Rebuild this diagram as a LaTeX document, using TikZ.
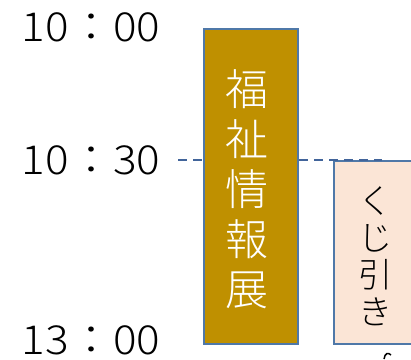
\documentclass[tikz,border=0pt]{standalone}
\usepackage{fontspec}
\newfontfamily\jpfont{Noto Sans CJK JP Light}
\definecolor{edgeblue}{HTML}{4F78A8}
\definecolor{dashblue}{HTML}{41649A}
\definecolor{gold}{HTML}{BF9000}
\definecolor{peach}{HTML}{FBE5D6}
\begin{document}
\begin{tikzpicture}[x=1pt,y=-1pt,
  timelabel/.style={anchor=center,inner sep=0pt,font=\jpfont\fontsize{40}{40}\selectfont},
  eventbox/.style={draw=edgeblue,line width=2.2pt,anchor=north west,inner sep=0pt},
  vtext/.style={align=center,inner sep=0pt}]
\useasboundingbox (0,0) rectangle (411,359);
\node[timelabel,xscale=1.1] (t1) at (91,27) {10：00};
\node[timelabel,xscale=1.1] (t2) at (91,160) {10：30};
\node[timelabel,xscale=1.1] (t3) at (91,340) {13：00};
\node[eventbox,fill=peach,minimum width=100pt,minimum height=183pt] (b2) at (333,160) {};
\coordinate (dend) at (382,160);
\coordinate (dstart) at (178,160);
\node[eventbox,fill=gold,minimum width=94pt,minimum height=315pt] (b1) at (203,28) {};
\draw[dashblue,line width=1.2pt,dash pattern=on 9pt off 6pt] (dstart) -- (b1.west |- dstart);
\draw[dashblue,line width=1.2pt,dash pattern=on 9pt off 6pt] (b1.east |- dstart) -- (dend);
\node[vtext,text=white,font=\jpfont\fontsize{43}{50}\selectfont] (l1) at (247,189) {福\\祉\\情\\報\\展};
\node[vtext,text=black,font=\jpfont\fontsize{34}{37}\selectfont] (l2) at (375,256) {く\\じ\\引\\き};
\draw[black,line width=1.5pt] (384,359) .. controls (385,353) and (388,352) .. (391,355);
\end{tikzpicture}
\end{document}
